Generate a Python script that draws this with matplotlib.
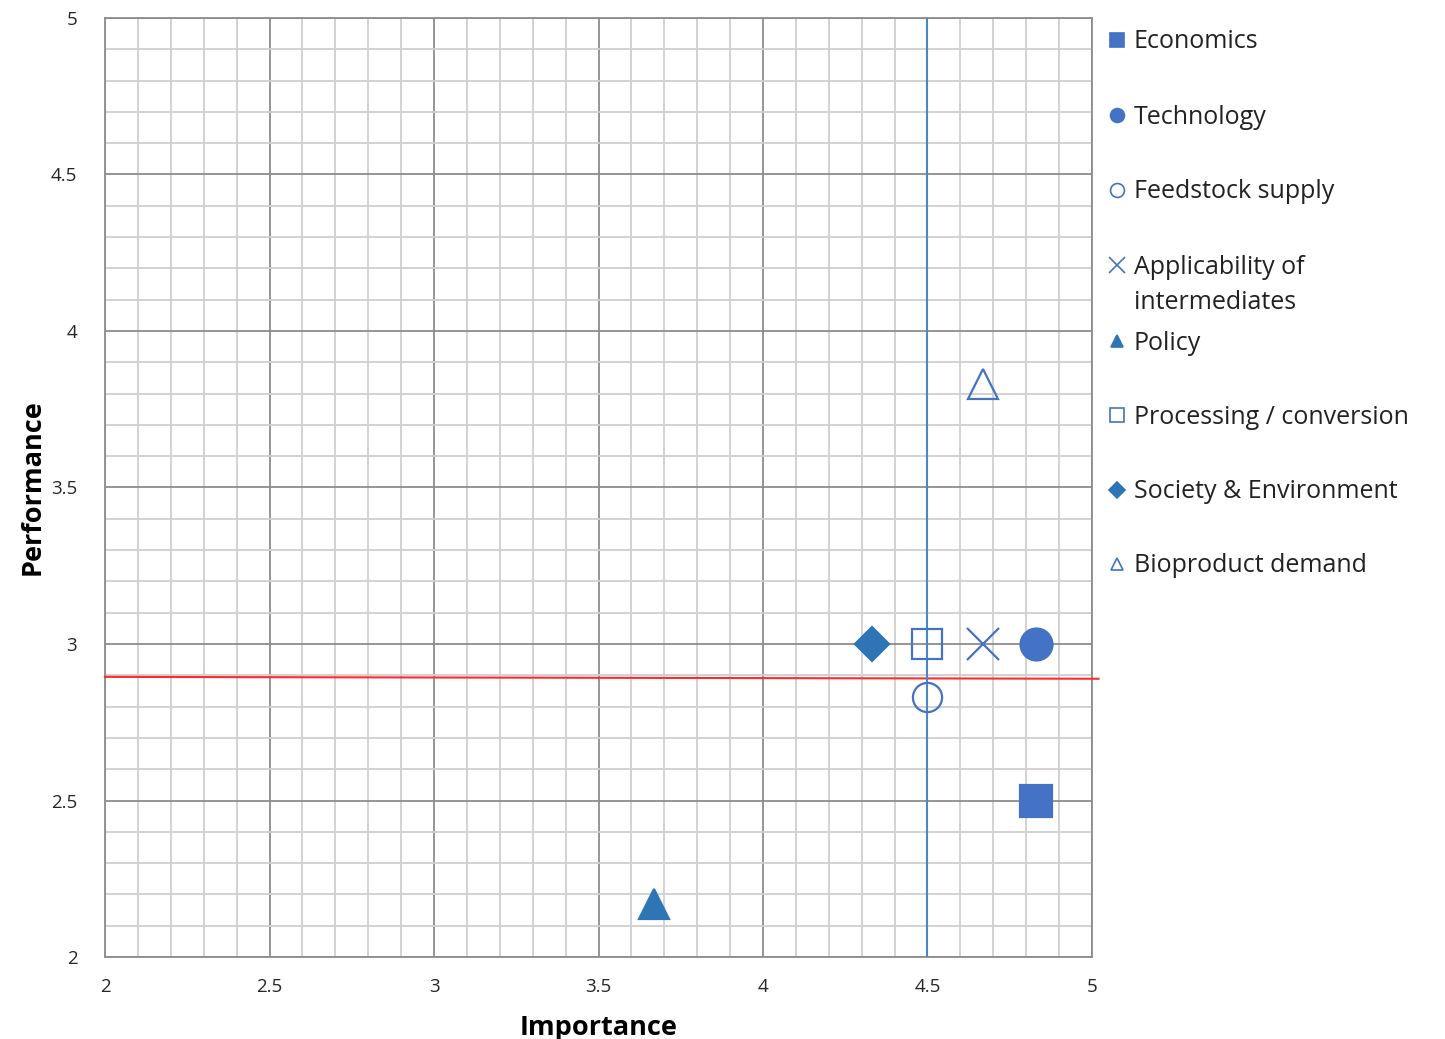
import matplotlib.pyplot as plt
from matplotlib.lines import Line2D

plt.rcParams['font.family'] = ['Open Sans', 'DejaVu Sans']

names = ['Economics', 'Technology', 'Feedstock supply', 'Applicability of\nintermediates',
         'Policy', 'Processing / conversion', 'Society & Environment', 'Bioproduct demand']
importance = [4.83, 4.83, 4.5, 4.67, 3.67, 4.5, 4.33, 4.67]
performance = [2.5, 3.0, 2.83, 3.0, 2.17, 3.0, 3.0, 3.83]
markers = ['s', 'o', 'o', 'x', '^', 's', 'D', '^']
filled = [True, True, False, False, True, False, True, False]
colors = ['#4472C4', '#4472C4', '#4472C4', '#4472C4', '#2E75B6', '#4472C4', '#2E75B6', '#4472C4']
sizes = [23, 23, 21, 23, 22, 22, 17, 22]
legend_sizes = [10, 10, 10, 11, 9, 10, 8, 9]

perf_line = 2.895
imp_line = 4.5

fig = plt.figure(figsize=(14.45, 10.39), dpi=100)
ax = fig.add_axes([0.0727, 0.0789, 0.6830, 0.9038])

ticks = [2, 2.5, 3, 3.5, 4, 4.5, 5]
ax.set_xlim(2, 5)
ax.set_ylim(2, 5)
ax.set_xticks(ticks)
ax.set_yticks(ticks)
ax.set_xticklabels([f'{t:g}' for t in ticks])
ax.set_yticklabels([f'{t:g}' for t in ticks])
ax.set_xticks([2 + i * 0.1 for i in range(31)], minor=True)
ax.set_yticks([2 + i * 0.1 for i in range(31)], minor=True)
ax.grid(which='minor', color='#cfcfcf', lw=1.3)
ax.grid(which='major', color='#8c8c8c', lw=1.3)
ax.set_axisbelow(True)
ax.tick_params(which='both', length=0, labelsize=13.5, colors='#262626')
ax.tick_params(axis='x', pad=15)
ax.tick_params(axis='y', pad=20)
for s in ax.spines.values():
    s.set_color('#8c8c8c')
    s.set_linewidth(1.3)

ax.set_xlabel('Importance', fontsize=19.5, fontweight='bold', labelpad=14)
ax.set_ylabel('Performance', fontsize=19.5, fontweight='bold', labelpad=4)

# threshold lines
ax.plot([2, 5.02], [perf_line, perf_line - 0.006], color='#ff2b2b', lw=1.5, clip_on=False, zorder=3)
ax.axvline(imp_line, color='#4a86c8', lw=1.5, zorder=3)

for x, y, m, f, c, s in zip(importance, performance, markers, filled, colors, sizes):
    ax.plot([x], [y], marker=m, ls='none', ms=s, color=c,
            mfc=c if f else 'none', mec=c, mew=1.6, zorder=4)

# legend, drawn by hand so the marker sits on the first line of wrapped labels
leg_y = [40, 115, 190, 265, 341, 415, 490, 564]
W, H = 1445.0, 1039.0
for name, py, m, f, c, s in zip(names, leg_y, markers, filled, colors, legend_sizes):
    yf = 1 - py / H
    fig.add_artist(Line2D([1117 / W], [yf], marker=m, ls='none', ms=s, color=c,
                          mfc=c if f else 'none', mec=c, mew=1.2, transform=fig.transFigure))
    for i, line in enumerate(name.split('\n')):
        fig.text(1134 / W, 1 - (py + 2 + 36 * i) / H, line, fontsize=18, va='center',
                 ha='left', color='#222222')

fig.savefig('out.png', dpi=100)
